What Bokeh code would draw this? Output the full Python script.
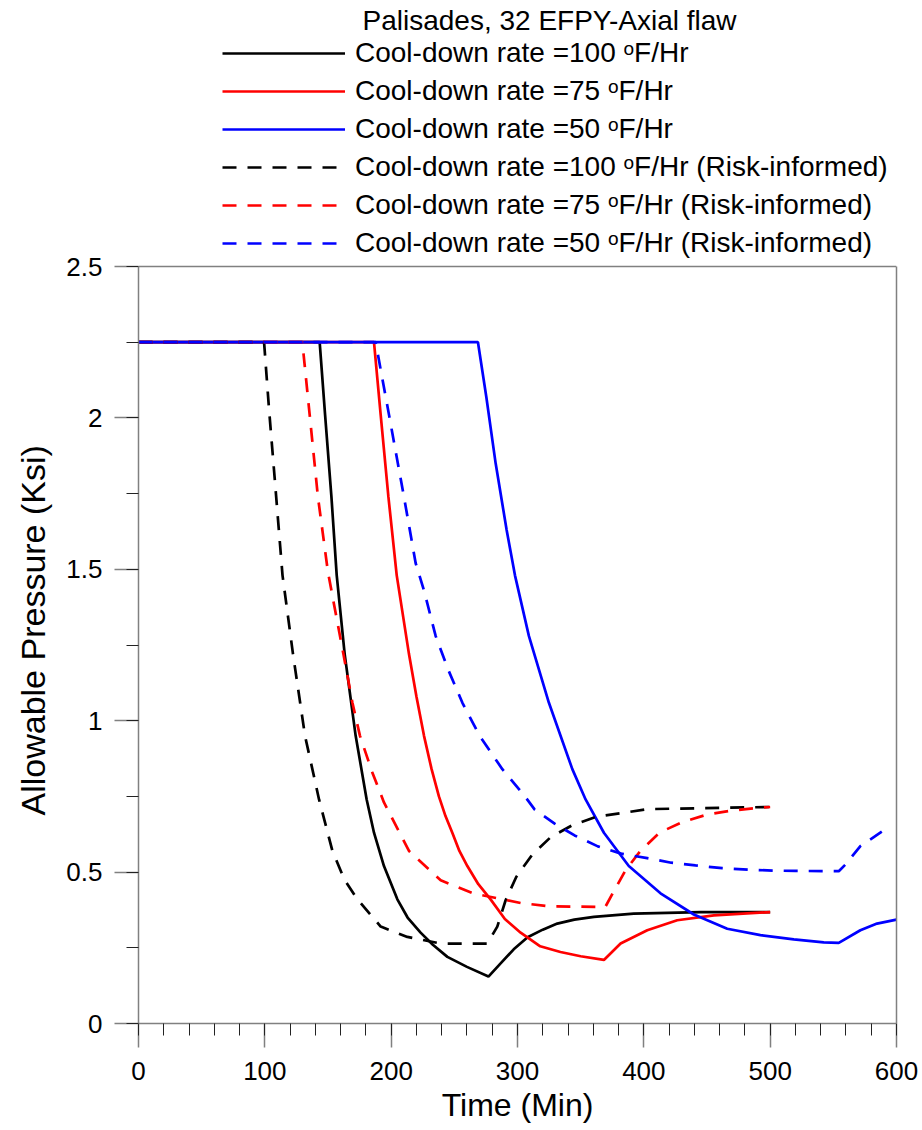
from bokeh.plotting import figure
from bokeh.models import (Range1d, SingleIntervalTicker, FixedTicker, LinearAxis, Span,
                          Legend, LegendItem, Label, Title)
from bokeh.embed import file_html
from bokeh.resources import INLINE

# Allowable pressure (ksi) versus time (min) for each cool-down rate
t_100 = [0, 143.4, 147.7, 152.7, 156.9, 163.2, 171.9, 180.6, 186.4, 194.3, 204.9, 213, 223.3,
         233, 244.5, 260, 277, 287, 297, 308, 320, 331.5, 345, 360.5, 392, 445, 500]
p_100 = [2.25, 2.25, 2.01, 1.74, 1.48, 1.22, 0.95, 0.74, 0.63, 0.52, 0.41, 0.35, 0.30,
         0.26, 0.22, 0.187, 0.155, 0.20, 0.245, 0.285, 0.31, 0.33, 0.343, 0.352, 0.363, 0.368, 0.368]

t_75 = [0, 186.4, 191.7, 197.8, 204.4, 214.1, 220, 226, 232, 237.8, 243, 248.4, 254, 260.3,
        269, 278.7, 290, 302.5, 318, 334, 350, 368.4, 381.6, 402.7, 426.4, 455.4, 500]
p_75 = [2.25, 2.25, 2.01, 1.74, 1.48, 1.22, 1.08, 0.95, 0.84, 0.75, 0.685, 0.63, 0.57, 0.52,
        0.46, 0.41, 0.345, 0.30, 0.255, 0.236, 0.222, 0.21, 0.264, 0.308, 0.341, 0.357, 0.368]

t_50 = [0, 268.7, 275.3, 282.7, 291.4, 298, 309, 324.8, 343.4, 353.9, 368.4, 388.1, 413.2,
        439.6, 466, 492.3, 518.7, 542.4, 554.3, 571.4, 584.6, 600]
p_50 = [2.25, 2.25, 2.07, 1.85, 1.63, 1.48, 1.28, 1.06, 0.84, 0.74, 0.63, 0.52, 0.43,
        0.36, 0.313, 0.292, 0.278, 0.268, 0.266, 0.308, 0.33, 0.343]

# Risk-informed limits
t_100ri = [0, 99.4, 103.3, 108, 114, 122.3, 131.8, 142.9, 153.5, 163, 173.3, 191.7, 212.8,
           239.2, 276.1, 284, 290.6, 299, 311.7, 326.2, 343.4, 362.6, 382.9, 402.7, 444.9, 500]
p_100ri = [2.25, 2.25, 2.03, 1.79, 1.48, 1.22, 0.95, 0.74, 0.57, 0.475, 0.41, 0.32, 0.286,
           0.264, 0.264, 0.32, 0.407, 0.484, 0.558, 0.615, 0.655, 0.683, 0.695, 0.708, 0.711, 0.715]

t_75ri = [0, 129.7, 135.5, 142, 150, 162.2, 169.3, 175.3, 185, 194.3, 214.1, 239.2, 265.5,
          291.9, 302.5, 324.9, 364.5, 369.5, 375.9, 385.5, 397.3, 412.6, 431, 450, 469.3, 492.2, 500]
p_75ri = [2.25, 2.25, 2.01, 1.74, 1.49, 1.22, 1.06, 0.95, 0.83, 0.73, 0.57, 0.473, 0.429,
          0.407, 0.398, 0.387, 0.385, 0.385, 0.434, 0.506, 0.57, 0.631, 0.666, 0.69, 0.703, 0.713, 0.715]

t_50ri = [0, 187.7, 198.3, 210.1, 219.4, 226, 235.2, 245, 256.3, 270, 288, 305, 313.5,
          329.4, 345.2, 363.6, 382.1, 402.7, 421.7, 440.9, 462, 483.1, 502.4, 520, 554.3,
          559.6, 571.4, 588.6, 595]
p_50ri = [2.25, 2.25, 2.01, 1.74, 1.52, 1.43, 1.28, 1.17, 1.06, 0.95, 0.84, 0.755, 0.707,
          0.66, 0.621, 0.585, 0.561, 0.546, 0.531, 0.522, 0.513, 0.508, 0.505, 0.504, 0.503,
          0.525, 0.586, 0.634, 0.65]

legend_title = "Palisades, 32 EFPY-Axial flaw"
labels = [
    "Cool-down rate =100 \u1d52F/Hr",
    "Cool-down rate =75 \u1d52F/Hr",
    "Cool-down rate =50 \u1d52F/Hr",
    "Cool-down rate =100 \u1d52F/Hr (Risk-informed)",
    "Cool-down rate =75 \u1d52F/Hr (Risk-informed)",
    "Cool-down rate =50 \u1d52F/Hr (Risk-informed)",
]
x_title = "Time (Min)"
y_title = "Allowable Pressure (Ksi)"

FONT = "Liberation Sans"
AXIS_GREY = "#808080"
P_MAX = 2.5
# extra headroom above 2.5 ksi holds the legend block
Y_TOP = P_MAX + 266 / 302.8

p = figure(width=922, height=1130, output_backend="svg", toolbar_location=None,
           x_range=Range1d(0, 600), y_range=Range1d(0, Y_TOP),
           min_border_left=138, min_border_right=26, min_border_top=0,
           min_border_bottom=107, x_axis_type=None, y_axis_type=None)
p.outline_line_color = None
p.grid.visible = False
p.background_fill_color = "white"

xaxis = LinearAxis(ticker=SingleIntervalTicker(interval=100, num_minor_ticks=5),
                   axis_label=x_title)
yaxis = LinearAxis(ticker=SingleIntervalTicker(interval=0.5, num_minor_ticks=2),
                   bounds=(0, P_MAX))
for ax in (xaxis, yaxis):
    ax.axis_line_color = AXIS_GREY
    ax.axis_line_width = 1.5
    ax.major_tick_line_color = AXIS_GREY
    ax.major_tick_line_width = 1.5
    ax.minor_tick_line_color = "#222222"
    ax.minor_tick_line_width = 1
    ax.major_tick_in = 0
    ax.major_tick_out = 24
    ax.minor_tick_in = 0
    ax.minor_tick_out = 12
    ax.major_label_text_font = FONT
    ax.major_label_text_font_size = "26px"
    ax.major_label_text_color = "black"
    ax.axis_label_text_font = FONT
    ax.axis_label_text_font_size = "32px"
    ax.axis_label_text_font_style = "normal"
    ax.axis_label_text_color = "black"
xaxis.major_label_standoff = 14
xaxis.axis_label_standoff = 4
yaxis.major_label_standoff = 12
p.add_layout(xaxis, "below")
p.add_layout(yaxis, "left")

# vertical axis title, starting a little above the bottom of the box
p.add_layout(Title(text=y_title, align="left", offset=208, standoff=23,
                   text_font=FONT, text_font_size="34px", text_font_style="normal",
                   text_color="black"), "left")

# right and top edges of the plotting box
right_edge = LinearAxis(bounds=(0, P_MAX), ticker=FixedTicker(ticks=[]),
                        axis_line_color=AXIS_GREY, axis_line_width=1.5,
                        major_tick_line_color=None, minor_tick_line_color=None)
p.add_layout(right_edge, "right")
p.add_layout(Span(location=P_MAX, dimension="width", line_color=AXIS_GREY, line_width=1.5))

LW = 2.7
DASH = "14 11"
r1 = p.line(t_100, p_100, line_color="black", line_width=LW)
r2 = p.line(t_75, p_75, line_color="#ff0000", line_width=LW)
r3 = p.line(t_50, p_50, line_color="#0000ff", line_width=LW)
r4 = p.line(t_100ri, p_100ri, line_color="black", line_width=LW, line_dash=DASH)
r5 = p.line(t_75ri, p_75ri, line_color="#ff0000", line_width=LW, line_dash=DASH)
r6 = p.line(t_50ri, p_50ri, line_color="#0000ff", line_width=LW, line_dash=DASH)

legend = Legend(items=[LegendItem(label=lab, renderers=[r])
                       for lab, r in zip(labels, [r1, r2, r3, r4, r5, r6])],
                location=(84, 764))
legend.label_text_font = FONT
legend.label_text_font_size = "28px"
legend.label_text_color = "black"
legend.glyph_width = 123
legend.glyph_height = 30
legend.label_height = 30
legend.label_standoff = 10
legend.spacing = 6
legend.padding = 0
legend.margin = 0
legend.border_line_color = None
legend.background_fill_alpha = 0
p.add_layout(legend)

p.add_layout(Label(x=224, y=1003, x_units="screen", y_units="screen", text=legend_title,
                   text_font=FONT, text_font_size="28px", text_baseline="middle",
                   text_color="black"))

open("out.html", "w").write(file_html(p, INLINE))
